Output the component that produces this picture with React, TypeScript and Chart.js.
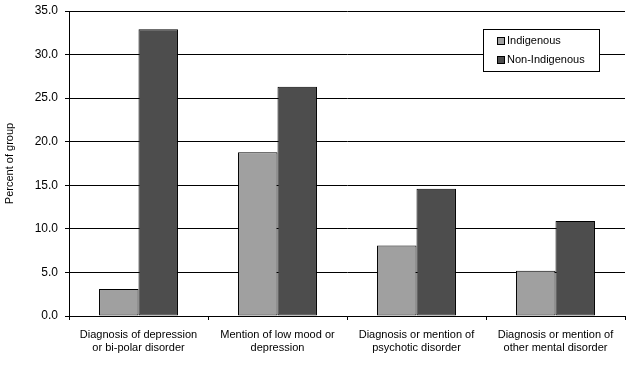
import React, { useEffect, useRef } from "react";
import { Chart, registerables } from "chart.js";

Chart.register(...registerables);

const categories: string[][] = [
  ["Diagnosis of depression", "or bi-polar disorder"],
  ["Mention of low mood or", "depression"],
  ["Diagnosis or mention of", "psychotic disorder"],
  ["Diagnosis or mention of", "other mental disorder"],
];
const seriesNames = ["Indigenous", "Non-Indigenous"];
const indigenous = [3.1, 18.8, 8.1, 5.2];
const nonIndigenous = [32.9, 26.3, 14.6, 10.9];
const yTicks = [0, 5, 10, 15, 20, 25, 30, 35];
const colors = ["#A0A0A0", "#4D4D4D"];

const FONT = "'Liberation Sans', Arial, sans-serif";

const boxLegend = {
  id: "boxLegend",
  afterDraw(chart: any) {
    const ctx = chart.ctx;
    const x = 483, y = 29, w = 116, h = 42;
    ctx.save();
    ctx.fillStyle = "#fff";
    ctx.fillRect(x, y, w, h);
    ctx.strokeStyle = "#000";
    ctx.lineWidth = 1;
    ctx.strokeRect(x + 0.5, y + 0.5, w, h);
    ctx.font = `11px ${FONT}`;
    ctx.textBaseline = "middle";
    ctx.textAlign = "left";
    const rows = [41, 60];
    seriesNames.forEach((name, i) => {
      const cy = rows[i];
      ctx.fillStyle = colors[i];
      ctx.fillRect(498, cy - 3, 6, 6);
      ctx.strokeStyle = "#000";
      ctx.strokeRect(497.5, cy - 3.5, 7, 7);
      ctx.fillStyle = "#000";
      ctx.fillText(name, 507, cy);
    });
    ctx.restore();
  },
};

export default function App() {
  const ref = useRef<HTMLCanvasElement>(null);
  useEffect(() => {
    document.body.style.margin = "0";
    const chart = new Chart(ref.current!, {
      type: "bar",
      data: {
        labels: categories,
        datasets: [
          {
            label: seriesNames[0],
            data: indigenous,
            backgroundColor: colors[0],
            borderColor: "#000",
            borderWidth: 1,
            borderSkipped: false,
          },
          {
            label: seriesNames[1],
            data: nonIndigenous,
            backgroundColor: colors[1],
            borderColor: "#000",
            borderWidth: 1,
            borderSkipped: false,
          },
        ],
      },
      options: {
        responsive: false,
        animation: false,
        layout: { padding: { left: 0, right: 7, top: 11, bottom: 0 } },
        datasets: { bar: { categoryPercentage: 0.568, barPercentage: 1 } },
        plugins: { legend: { display: false }, tooltip: { enabled: false } },
        scales: {
          x: {
            afterFit: (s: any) => {
              s.height = 56;
              s.paddingLeft = 0;
              s.paddingRight = 0;
            },
            grid: {
              offset: true,
              drawOnChartArea: false,
              drawTicks: true,
              tickLength: 4,
              color: "#000",
            },
            border: { color: "#000", width: 1 },
            ticks: {
              color: "#000",
              font: { family: FONT, size: 11 },
              padding: 8,
              maxRotation: 0,
              autoSkip: false,
            },
          },
          y: {
            min: 0,
            max: 35,
            afterFit: (s: any) => {
              s.width = 69;
              s.paddingTop = 0;
              s.paddingBottom = 0;
            },
            afterBuildTicks: (s: any) => {
              s.ticks = yTicks.map((v) => ({ value: v }));
            },
            grid: { color: "#000", tickLength: 4, lineWidth: 1 },
            border: { color: "#000", width: 1 },
            ticks: {
              color: "#000",
              font: { family: FONT, size: 12 },
              padding: 7,
              callback: (v: any) => Number(v).toFixed(1),
            },
            title: {
              display: true,
              text: "Percent of group",
              color: "#000",
              font: { family: FONT, size: 11 },
              padding: { top: 3, bottom: 0 },
            },
          },
        },
      },
      plugins: [boxLegend],
    });
    return () => chart.destroy();
  }, []);
  return <canvas ref={ref} width={632} height={372} style={{ display: "block" }} />;
}
